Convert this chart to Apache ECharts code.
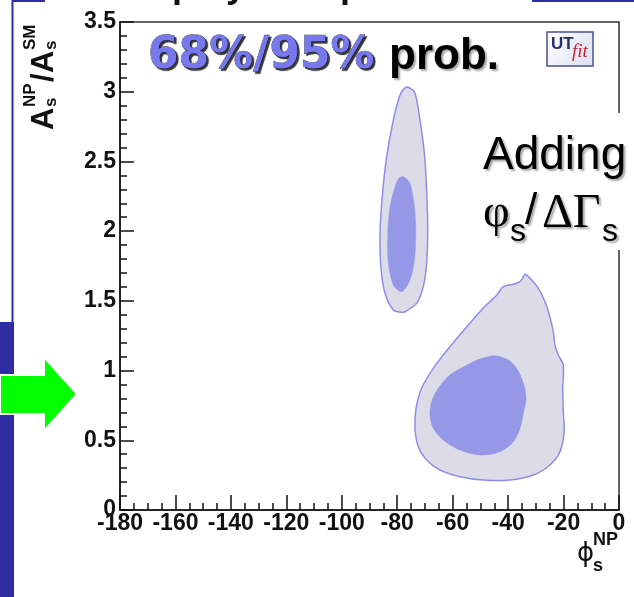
<!DOCTYPE html>
<html><head><meta charset="utf-8">
<script src="https://cdn.jsdelivr.net/npm/echarts@6/dist/echarts.min.js"></script>
<style>html,body{margin:0;padding:0;background:#fff;}#c{width:634px;height:597px;}</style>
</head><body><div id="c"></div>
<script>
// ---- data (phi_s^NP in degrees, A_s^NP/A_s^SM) ----
const xTicks = [-180,-160,-140,-120,-100,-80,-60,-40,-20,0];
const yTicks = [0,0.5,1,1.5,2,2.5,3,3.5];
const tallOuter95 = [[-76.0,3.032],[-73.6,2.989],[-71.8,2.797],[-70.2,2.558],[-69.4,2.295],[-69.0,2.008],[-69.4,1.769],[-70.6,1.602],[-73.0,1.482],[-77.2,1.422],[-78.4,1.418],[-81.4,1.434],[-84.4,1.554],[-85.9,1.745],[-86.2,1.985],[-85.4,2.247],[-83.8,2.534],[-81.4,2.797],[-79.0,2.976],[-77.4,3.024]];
const tallInner68 = [[-77.8,2.391],[-75.4,2.343],[-73.8,2.175],[-73.3,1.985],[-73.8,1.793],[-75.4,1.650],[-78.4,1.566],[-81.4,1.614],[-83.2,1.769],[-83.4,1.985],[-82.6,2.175],[-80.8,2.319],[-79.4,2.379]];
const blobOuter95 = [[-33.9,1.690],[-35.5,1.642],[-38.1,1.619],[-41.7,1.602],[-44.1,1.542],[-49.0,1.447],[-54.9,1.315],[-61.0,1.171],[-67.0,1.016],[-71.2,0.873],[-73.2,0.729],[-73.6,0.586],[-72.4,0.454],[-69.4,0.359],[-64.6,0.287],[-57.4,0.239],[-49.0,0.215],[-39.3,0.215],[-30.9,0.251],[-24.9,0.323],[-21.3,0.418],[-19.8,0.562],[-20.1,0.705],[-20.3,0.873],[-20.1,1.040],[-21.9,1.112],[-23.1,1.183],[-23.7,1.279],[-25.1,1.399],[-26.7,1.494],[-29.1,1.590],[-31.5,1.650],[-33.3,1.685]];
const blobInner68 = [[-44.7,1.107],[-39.9,1.076],[-36.9,1.016],[-34.5,0.909],[-33.5,0.801],[-34.5,0.694],[-35.7,0.586],[-38.1,0.490],[-42.9,0.418],[-50.1,0.394],[-57.4,0.430],[-63.4,0.502],[-67.0,0.586],[-68.2,0.681],[-67.6,0.777],[-65.2,0.873],[-61.0,0.968],[-54.9,1.040],[-49.5,1.088]];

const chart = echarts.init(document.getElementById('c'), null, {renderer:'canvas'});
const SANS = 'Liberation Sans';

function region(name, pts, fill, stroke, lw){
  return {
    type:'custom', name, data: pts, silent:true, animation:false, clip:true,
    renderItem:(params, api)=>{
      if(params.dataIndex !== 0) return null;
      const p = pts.map(q=>api.coord(q));
      return {type:'polygon', shape:{points:p, smooth:0.3}, style:{fill, stroke, lineWidth:lw}};
    }
  };
}

const axisLabelStyle = {color:'#111', fontFamily:SANS, fontWeight:'bold', fontSize:23};
const shadow = {textShadowColor:'rgba(0,0,0,0.35)', textShadowOffsetX:2, textShadowOffsetY:2, textShadowBlur:2};

const yTitle = [];
function yt(txt, lx, ly, size){ yTitle.push({type:'text', x:lx, y:ly, style:{text:txt, fontFamily:SANS, fontWeight:'bold', fontSize:size, fill:'#111', textVerticalAlign:'middle', textAlign:'left'}}); }
yt('A',0,-11,31); yt('NP',23,-25,17); yt('s',23,-4,17);
yt('/',48,-11,31); yt('A',57,-11,31); yt('SM',80,-25,17); yt('s',80,-4,17);

chart.setOption({
  animation:false,
  backgroundColor:'#fff',
  grid:{left:120, right:15, top:22, bottom:87, show:true, borderColor:'#333', borderWidth:1.5, backgroundColor:'transparent'},
  xAxis:{type:'value', min:-180, max:0, interval:20,
    axisLine:{show:true, onZero:false, lineStyle:{color:'#111', width:1.5}},
    axisTick:{show:true, inside:true, length:15, lineStyle:{color:'#111', width:1.5}},
    minorTick:{show:true, splitNumber:4, length:7, lineStyle:{color:'#111', width:1.5}},
    splitLine:{show:false},
    axisLabel:Object.assign({margin:2, formatter:v=>xTicks.includes(v)?String(v):''}, axisLabelStyle)},
  yAxis:{type:'value', min:0, max:3.5, interval:0.5,
    axisLine:{show:true, onZero:false, lineStyle:{color:'#111', width:1.5}},
    axisTick:{show:true, inside:true, length:14, lineStyle:{color:'#111', width:1.5}},
    minorTick:{show:true, splitNumber:5, length:7, lineStyle:{color:'#111', width:1.5}},
    splitLine:{show:false},
    axisLabel:Object.assign({margin:4, formatter:v=>yTicks.includes(v)?String(v):''}, axisLabelStyle)},
  series:[
    region('95% tall', tallOuter95, '#dcdce8', '#8e8ee8', 1.5),
    region('68% tall', tallInner68, '#9797e8', '#9797e8', 0.5),
    region('95% blob', blobOuter95, '#dcdce8', '#8e8ee8', 1.5),
    region('68% blob', blobInner68, '#9797e8', '#9797e8', 0.5)
  ],
  graphic:[
    // slide decorations
    {type:'line', shape:{x1:12.5,y1:0,x2:12.5,y2:322}, style:{stroke:'#2c2ca6', lineWidth:2}, z:10},
    {type:'line', shape:{x1:12,y1:1,x2:45,y2:1}, style:{stroke:'#2c2ca6', lineWidth:2}, z:10},
    {type:'line', shape:{x1:532,y1:1,x2:634,y2:1}, style:{stroke:'#2c2ca6', lineWidth:2}, z:10},
    {type:'rect', shape:{x:0,y:322,width:14,height:275}, style:{fill:'#2e2ea2'}, z:10},
    {type:'polygon', shape:{points:[[0,375],[44,375],[44,357],[77,394],[44,431],[44,414],[0,414]]}, style:{fill:'#00ff00', stroke:'#fff', lineWidth:2}, z:11},
    // cut-off slide title descenders
    {type:'text', x:172, y:5, style:{text:'p', fontFamily:SANS, fontWeight:'bold', fontSize:36, fill:'#111', textVerticalAlign:'bottom'}, z:10},
    {type:'text', x:226, y:5, style:{text:'y', fontFamily:SANS, fontWeight:'bold', fontSize:36, fill:'#111', textVerticalAlign:'bottom'}, z:10},
    {type:'text', x:340, y:5, style:{text:'p', fontFamily:SANS, fontWeight:'bold', fontSize:36, fill:'#111', textVerticalAlign:'bottom'}, z:10},
    // prob label
    {type:'text', x:148, y:57, style:Object.assign({text:'68%/95%', fontFamily:'DejaVu Sans', fontWeight:'bold', fontSize:44, fill:'#7878ee', textVerticalAlign:'middle', stroke:'#333', lineWidth:0.6}, {textShadowColor:'rgba(0,0,0,0.8)', textShadowOffsetX:2, textShadowOffsetY:2, textShadowBlur:1}), z:10},
    {type:'text', x:389, y:57, style:Object.assign({text:'prob.', fontFamily:SANS, fontWeight:'bold', fontSize:44, fill:'#000', textVerticalAlign:'middle'}, shadow), z:10},
    // UTfit logo
    {type:'rect', shape:{x:547,y:32,width:46,height:34}, style:{fill:new echarts.graphic.LinearGradient(0,0,1,1,[{offset:0,color:'#ffffff'},{offset:1,color:'#d8e0f2'}]), stroke:'#4a4f9a', lineWidth:1.5}, z:10},
    {type:'text', x:551, y:44, style:{text:'UT', fontFamily:SANS, fontWeight:'bold', fontSize:17, fill:'#27306e', textVerticalAlign:'middle'}, z:11},
    {type:'text', x:572, y:52, style:{text:'fit', fontFamily:'Liberation Serif', fontStyle:'italic', fontSize:19, fill:'#cc2233', textVerticalAlign:'middle'}, z:11},
    // "Adding phi_s/DeltaGamma_s" box
    {type:'rect', shape:{x:460,y:113,width:174,height:137}, style:{fill:'#fff'}, z:20},
    {type:'text', x:483, y:156, style:Object.assign({text:'Adding', fontFamily:SANS, fontSize:46, fill:'#000', textVerticalAlign:'middle'}, shadow), z:21},
    {type:'text', x:483, y:214, style:Object.assign({text:'φ', fontFamily:'Liberation Serif', fontSize:46, fill:'#000', textVerticalAlign:'middle'}, shadow), z:21},
    {type:'text', x:510, y:232, style:Object.assign({text:'s', fontFamily:SANS, fontSize:32, fill:'#000', textVerticalAlign:'middle'}, shadow), z:21},
    {type:'text', x:525, y:212, style:Object.assign({text:'/', fontFamily:SANS, fontSize:44, fill:'#000', textVerticalAlign:'middle'}, shadow), z:21},
    {type:'text', x:542, y:214, style:Object.assign({text:'ΔΓ', fontFamily:'Liberation Serif', fontSize:48, fill:'#000', textVerticalAlign:'middle'}, shadow), z:21},
    {type:'text', x:602, y:232, style:Object.assign({text:'s', fontFamily:SANS, fontSize:32, fill:'#000', textVerticalAlign:'middle'}, shadow), z:21},
    // y-axis title (rotated)
    {type:'group', x:55, y:130, rotation:Math.PI/2, children:yTitle, z:10},
    // x-axis title
    {type:'text', x:577, y:554, style:{text:'\u03D5', fontFamily:'DejaVu Sans', fontSize:26, fill:'#111', textVerticalAlign:'middle'}, z:10},
    {type:'text', x:593, y:540, style:{text:'NP', fontFamily:SANS, fontWeight:'bold', fontSize:18, fill:'#111', textVerticalAlign:'middle'}, z:10},
    {type:'text', x:593, y:566, style:{text:'s', fontFamily:SANS, fontWeight:'bold', fontSize:18, fill:'#111', textVerticalAlign:'middle'}, z:10}
  ]
});
</script></body></html>
